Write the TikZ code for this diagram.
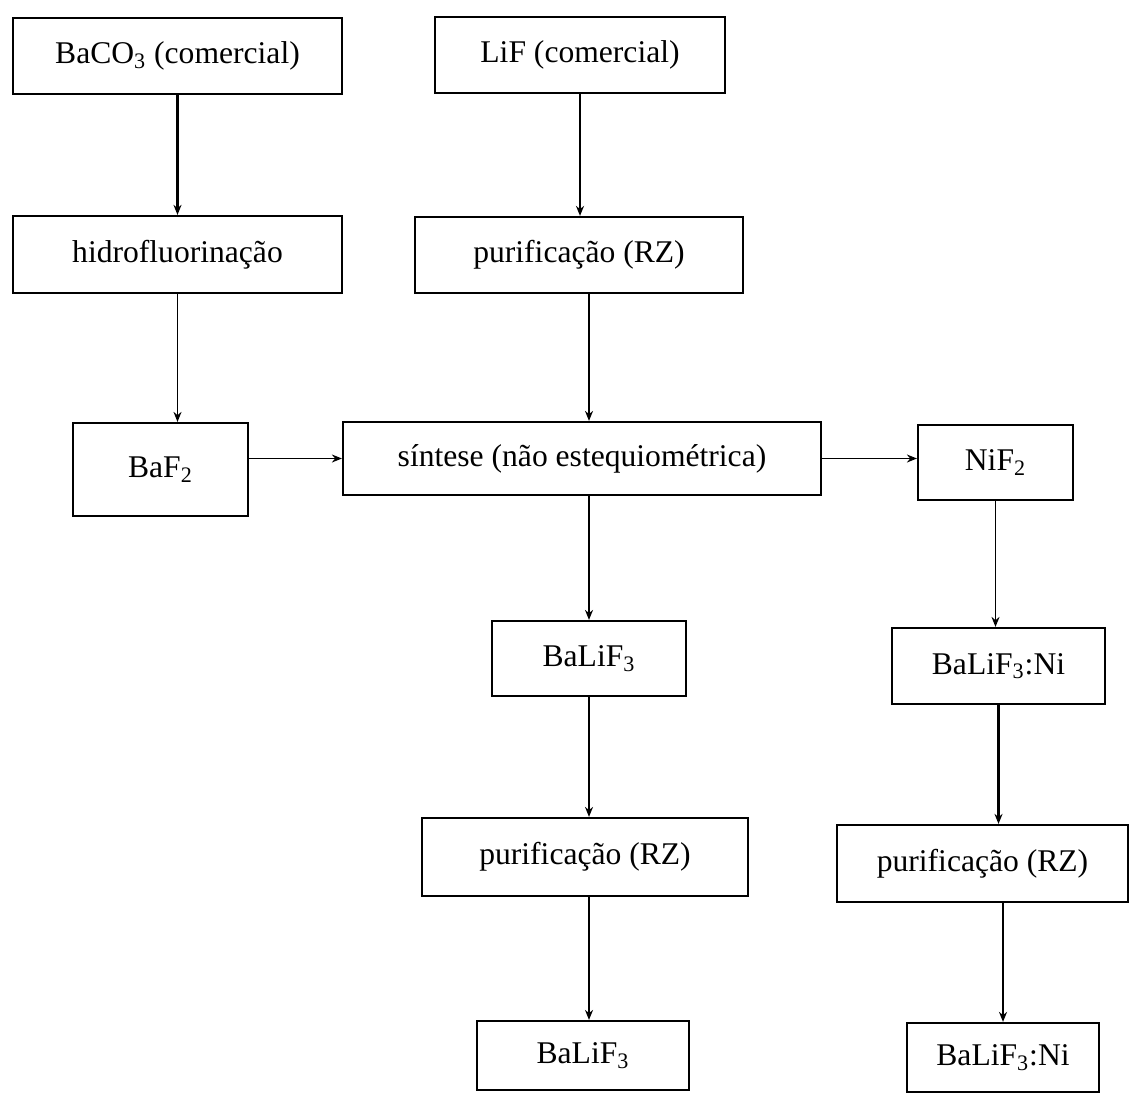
\documentclass[tikz,border=0pt]{standalone}
\usepackage{fontspec}
\setmainfont{Liberation Serif}
\usetikzlibrary{arrows.meta}
\begin{document}
\begin{tikzpicture}[x=0.5pt,y=-0.5pt,
  box/.style={draw, line width=1.1pt, inner sep=0pt, anchor=center,
    font=\fontsize{15.8}{19}\selectfont},
  arr/.style={line width=0.8pt, -{Stealth[length=5pt,width=4pt]}},
  boldarr/.style={arr, line width=1.2pt}]
\useasboundingbox (0,0) rectangle (1133,1097);
\node[box, minimum width=164.5pt, minimum height=38pt]   (A) at (177.5,56)    {BaCO\textsubscript{3} (comercial)};
\node[box, minimum width=145pt,   minimum height=38pt]   (B) at (580,55)      {LiF (comercial)};
\node[box, minimum width=164.5pt, minimum height=38.5pt] (C) at (177.5,254.5) {hidrofluorinação};
\node[box, minimum width=164pt,   minimum height=38pt]   (D) at (579,255)     {purificação (RZ)};
\node[box, minimum width=87.5pt,  minimum height=46.5pt] (E) at (160.5,469.5) {BaF\textsubscript{2}};
\node[box, minimum width=239pt,   minimum height=36.5pt] (F) at (582,458.5)   {síntese (não estequiométrica)};
\node[box, minimum width=77.5pt,  minimum height=37.5pt] (G) at (995.5,462.5) {NiF\textsubscript{2}};
\node[box, minimum width=97pt,    minimum height=37.5pt] (H) at (589,658.5)   {BaLiF\textsubscript{3}};
\node[box, minimum width=106.5pt, minimum height=38pt]   (I) at (998.5,666)   {BaLiF\textsubscript{3}:Ni};
\node[box, minimum width=163pt,   minimum height=39pt]   (J) at (585,857)     {purificação (RZ)};
\node[box, minimum width=145.5pt, minimum height=38.5pt] (K) at (982.5,863.5) {purificação (RZ)};
\node[box, minimum width=106pt,   minimum height=34.5pt] (L) at (583,1055.5)  {BaLiF\textsubscript{3}};
\node[box, minimum width=96pt,    minimum height=34.5pt] (M) at (1003,1057.5) {BaLiF\textsubscript{3}:Ni};

\draw[boldarr] (A.south) -- (A.south |- C.north);
\draw[arr] (C.south) -- (C.south |- E.north);
\draw[arr] (B.south) -- (B.south |- D.north);
\draw[arr] (H.north |- D.south) -- (H.north |- F.north);
\draw[arr] (E.east |- F.west) -- (F.west);
\draw[arr] (F.east) -- (F.east -| G.west);
\draw[arr] (H.north |- F.south) -- (H.north);
\draw[arr] (H.south) -- (H.south |- J.north);
\draw[arr] (H.south |- J.south) -- (H.south |- L.north);
\draw[arr] (G.south) -- (G.south |- I.north);
\draw[boldarr] (I.south) -- (I.south |- K.north);
\draw[boldarr] (M.north |- K.south) -- (M.north);
\end{tikzpicture}
\end{document}
